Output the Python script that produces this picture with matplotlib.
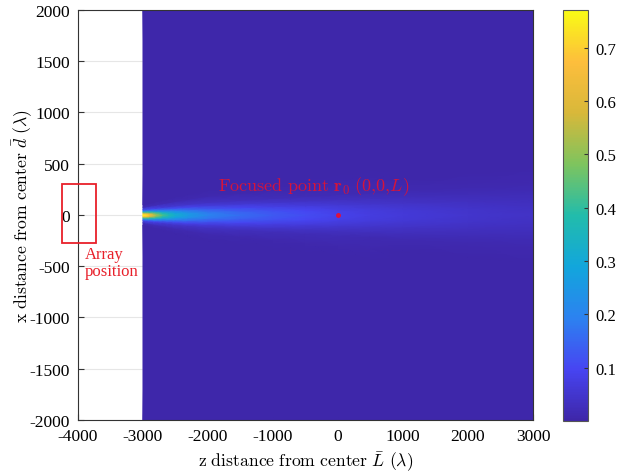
import numpy as np
import matplotlib
matplotlib.use("Agg")
import matplotlib.pyplot as plt
from matplotlib.colors import LinearSegmentedColormap
from matplotlib.patches import Rectangle

plt.rcParams['font.family'] = ['Liberation Serif', 'DejaVu Serif']
plt.rcParams['mathtext.fontset'] = 'cm'
plt.rcParams['axes.unicode_minus'] = False

# ---- data ----
# on-axis intensity along z
z_pts = [-3000, -2950, -2900, -2800, -2700, -2600, -2500, -2300, -2000, -1500,
         -1000, -500, 0, 500, 1000, 2000, 3000]
peak_vals = [0.77, 0.74, 0.66, 0.52, 0.43, 0.37, 0.32, 0.26, 0.20, 0.16,
             0.13, 0.11, 0.09, 0.075, 0.065, 0.05, 0.04]
# beam half-width (lambda) along z
beam_width = [25, 27, 29, 33, 37, 41, 45, 52, 62, 72,
              82, 92, 102, 110, 118, 136, 155]
# transverse profile: offsets in units of beam width and relative level
u_offsets = [-4.0, -3.0, -2.0, -1.5, -1.0, -0.5, 0.0, 0.5, 1.0, 1.5, 2.0, 3.0, 4.0]
u_level = [0.0, 0.03, 0.15, 0.33, 0.6, 0.88, 1.0, 0.88, 0.6, 0.33, 0.15, 0.03, 0.0]
background = 0.004

xticks = [-4000, -3000, -2000, -1000, 0, 1000, 2000, 3000]
yticks = [-2000, -1500, -1000, -500, 0, 500, 1000, 1500, 2000]
cbar_ticks = [0.1, 0.2, 0.3, 0.4, 0.5, 0.6, 0.7]

parula_hex = ['#3e26a8', '#4745f2', '#2c82f0', '#12a6dc', '#22bcab',
              '#7ec45e', '#d8b83a', '#fdbe3c', '#f9fb15']
parula = LinearSegmentedColormap.from_list('parula', parula_hex)

# ---- build mesh ----
zz = np.array(z_pts, float)
pk = np.array(peak_vals, float)
wd = np.array(beam_width, float)
uu = np.array(u_offsets, float)
lv = np.array(u_level, float)

Y = np.vstack([np.full_like(zz, -2000.0)] + [u * wd for u in uu] + [np.full_like(zz, 2000.0)])
X = np.tile(zz, (Y.shape[0], 1))
C = np.vstack([np.full_like(zz, background)] + [background + l * (pk - background) for l in lv]
              + [np.full_like(zz, background)])

fig = plt.figure(figsize=(6.33, 4.77), dpi=100)
ax = fig.add_axes([0.1232, 0.1174, 0.7188, 0.8596])
cax = fig.add_axes([0.8894, 0.1153, 0.0395, 0.862])

ax.set_axisbelow(True)
ax.grid(True, color='#e6e6e6', linewidth=0.8)
mesh = ax.pcolormesh(X, Y, C, shading='gouraud', cmap=parula, vmin=0.0, vmax=0.771)

ax.set_xlim(-4000, 3000)
ax.set_ylim(-2000, 2000)
ax.set_xticks(xticks)
ax.set_yticks(yticks)
ax.tick_params(direction='in', labelsize=12.5, length=4, pad=6, color='#333333', top=False, right=False)
for s in ax.spines.values():
    s.set_color('#333333')
    s.set_linewidth(0.8)

ax.set_xlabel(r'$\mathrm{z\ distance\ from\ center}\ \bar{L}\ (\lambda)$', fontsize=12.7, va='center')
ax.set_ylabel(r'$\mathrm{x\ distance\ from\ center}\ \bar{d}\ (\lambda)$', fontsize=12.7, va='center')
ax.xaxis.set_label_coords(0.5, -0.10)
ax.yaxis.set_label_coords(-0.121, 0.5)

ax.add_patch(Rectangle((-4250, -275), 520, 575, fill=False, edgecolor='#e8202a',
                       linewidth=1.3, clip_on=False, zorder=5))
ax.text(-3890, -305, 'Array\nposition', color='#e8202a', fontsize=12, ha='left', va='top',
        linespacing=1.1)
ax.text(-1850, 290, r'$\mathrm{Focused\ point}\ \mathbf{r}_0\ (0{,}0{,}L)$', color='#d4143c',
        fontsize=13, ha='left', va='center')
ax.plot([0], [0], marker='o', markersize=2.5, color='#e0103c', linestyle='none')

cb = fig.colorbar(mesh, cax=cax, ticks=cbar_ticks)
cb.ax.tick_params(direction='in', labelsize=12, length=3, pad=5, color='#333333')
cb.outline.set_edgecolor('#555555')
cb.outline.set_linewidth(0.8)

fig.savefig('out.png', dpi=100)
